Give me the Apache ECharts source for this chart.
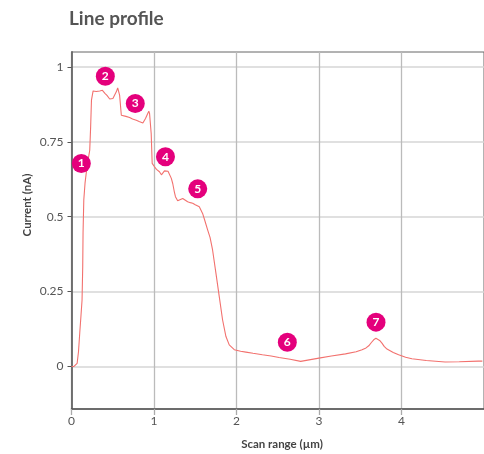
<!DOCTYPE html>
<html>
<head>
<meta charset="utf-8">
<script src="https://cdn.jsdelivr.net/npm/echarts@6/dist/echarts.min.js"></script>
<style>
html,body{margin:0;padding:0;background:#fff;}
#chart{width:484px;height:454px;}
</style>
</head>
<body>
<div id="chart"></div>
<script>
const scanX = [0,0.03,0.052,0.068,0.085,0.100,0.115,0.128,0.136,0.140,0.149,0.164,0.188,0.221,0.232,0.242,0.262,0.281,0.30,0.32,0.342,0.36,0.375,0.390,0.405,0.43,0.463,0.485,0.502,0.52,0.543,0.56,0.568,0.583,0.604,0.623,0.66,0.704,0.74,0.785,0.82,0.865,0.88,0.897,0.92,0.937,0.946,0.954,0.966,0.978,1.006,1.03,1.066,1.09,1.106,1.127,1.147,1.17,1.187,1.21,1.227,1.245,1.260,1.287,1.31,1.348,1.37,1.408,1.44,1.469,1.50,1.52,1.549,1.565,1.589,1.614,1.650,1.680,1.710,1.751,1.791,1.831,1.872,1.912,1.973,2.05,2.114,2.20,2.314,2.42,2.516,2.65,2.778,2.88,2.999,3.15,3.321,3.45,3.522,3.570,3.603,3.635,3.663,3.69,3.711,3.735,3.763,3.790,3.824,3.9,3.965,4.05,4.126,4.3,4.529,4.7,4.930,4.98];
const current = [0,0,0.001,0.010,0.05,0.112,0.17,0.222,0.333,0.446,0.556,0.612,0.667,0.722,0.80,0.889,0.92,0.922,0.918,0.924,0.920,0.915,0.922,0.926,0.912,0.905,0.893,0.897,0.895,0.905,0.917,0.930,0.928,0.906,0.839,0.833,0.835,0.831,0.826,0.822,0.818,0.813,0.815,0.828,0.842,0.852,0.845,0.845,0.778,0.678,0.667,0.658,0.650,0.640,0.645,0.653,0.658,0.652,0.650,0.628,0.611,0.585,0.567,0.553,0.556,0.561,0.555,0.550,0.547,0.545,0.540,0.538,0.533,0.528,0.511,0.489,0.456,0.43,0.389,0.311,0.233,0.156,0.100,0.072,0.056,0.051,0.048,0.044,0.039,0.035,0.030,0.024,0.017,0.022,0.028,0.035,0.042,0.049,0.056,0.062,0.069,0.080,0.089,0.094,0.093,0.087,0.078,0.067,0.058,0.047,0.039,0.031,0.026,0.020,0.015,0.016,0.018,0.018];
const markerX = [0.119,0.410,0.773,1.139,1.530,2.616,3.691];
const markerY = [0.678,0.969,0.878,0.700,0.593,0.081,0.148];
const markerLabels = ['1','2','3','4','5','6','7'];
const yTicks = [0,0.25,0.5,0.75,1];
const xTicks = [0,1,2,3,4];
const titleText = 'Line profile';
const xName = 'Scan range (µm)';
const yName = 'Current (nA)';

const FONT = 'Lato';
const chart = echarts.init(document.getElementById('chart'), null, {renderer:'canvas'});
chart.setOption({
  animation:false,
  backgroundColor:'#fff',
  title:{text:titleText,left:64,top:4,textStyle:{fontFamily:FONT,fontWeight:'bold',fontSize:19,color:'#555'}},
  grid:{left:71.5,right:-2,top:52,bottom:45,show:true,borderColor:'#666',borderWidth:1,backgroundColor:'transparent'},
  graphic:[
    {type:'text',x:282,y:444,style:{text:xName,fontFamily:FONT,fontWeight:'bold',fontSize:11.5,fill:'#444',align:'center',verticalAlign:'middle'}},
    {type:'text',x:27,y:205,rotation:Math.PI/2,style:{text:yName,fontFamily:FONT,fontWeight:'bold',fontSize:11.5,fill:'#444',align:'center',verticalAlign:'middle'}}
  ],
  xAxis:{type:'value',min:0,max:5,interval:1,
    axisLine:{show:true,onZero:false,lineStyle:{color:'#555',width:1.5}},
    axisTick:{show:true,length:6,customValues:xTicks,lineStyle:{color:'#aaa',width:1.3}},
    axisLabel:{customValues:xTicks,margin:6,fontFamily:FONT,fontSize:12,color:'#555'},
    splitLine:{show:true,lineStyle:{color:'#bbb',width:1.3}}
  },
  yAxis:{type:'value',min:-0.142,max:1.05,
    axisLine:{show:true,onZero:false,lineStyle:{color:'#666',width:1.8}},
    axisTick:{show:true,length:4,customValues:yTicks,lineStyle:{color:'#555',width:1}},
    axisLabel:{customValues:yTicks,margin:8,fontFamily:FONT,fontSize:12,color:'#555',formatter:v=>String(+v.toFixed(2))},
    splitLine:{show:true,lineStyle:{color:'#d6d6d6',width:1.5}}
  },
  series:[
    {type:'line',data:scanX.map((x,i)=>[x,current[i]]),showSymbol:false,symbol:'none',
     lineStyle:{color:'#f2716e',width:1.1},z:3,clip:true},
    {type:'scatter',data:markerX.map((x,i)=>[x,markerY[i],markerLabels[i]]),symbolSize:19,
     itemStyle:{color:'#e4007c',opacity:1},z:5,
     label:{show:true,position:'inside',formatter:p=>p.value[2],color:'#fff',fontFamily:FONT,fontWeight:'bold',fontSize:12}}
  ]
});
</script>
</body>
</html>
